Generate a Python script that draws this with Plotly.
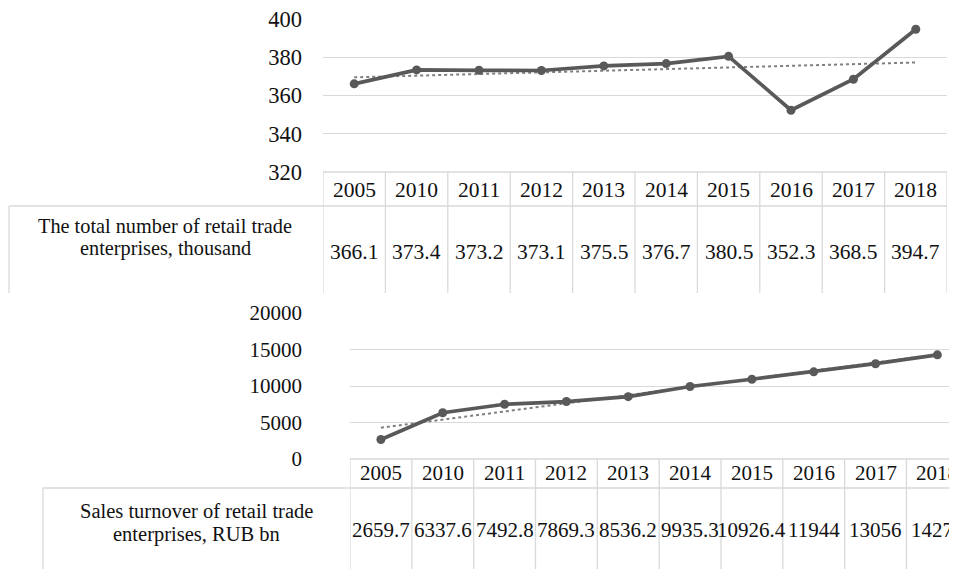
import numpy as np
import plotly.graph_objects as go

# ---------------- data ----------------
years = ["2005", "2010", "2011", "2012", "2013", "2014", "2015", "2016", "2017", "2018"]
enterprises = [366.1, 373.4, 373.2, 373.1, 375.5, 376.7, 380.5, 352.3, 368.5, 394.7]
turnover = [2659.7, 6337.6, 7492.8, 7869.3, 8536.2, 9935.3, 10926.4, 11944, 13056, 14272]
top_ticks = [320, 340, 360, 380, 400]
bottom_ticks = [0, 5000, 10000, 15000, 20000]
top_label_lines = ["The total number of retail trade", "enterprises, thousand"]
bottom_label_lines = ["Sales turnover of retail trade", "enterprises, RUB bn"]

# ---------------- layout helpers ----------------
W, H = 957, 569
OFF = 8  # page body margin: figure is drawn 8px right/down of the page corner
def fx(px):
    return (px - OFF) / W
def fy(py):
    return 1 - (py - OFF) / H

LINE_C = "#595959"
TREND_C = "#7f7f7f"
GRID_C = "#d9d9d9"
TEXT_C = "#111111"
FONT = "Liberation Serif, Times New Roman, serif"

def trend(vals):
    idx = np.arange(1, len(vals) + 1)
    k, b = np.polyfit(idx, vals, 1)
    return list(k * idx + b)

fig = go.Figure()

for vals, xa, ya in [(enterprises, "x", "y"), (turnover, "x2", "y2")]:
    fig.add_trace(go.Scatter(x=years, y=trend(vals), xaxis=xa, yaxis=ya, mode="lines",
                             line=dict(color=TREND_C, width=2, dash="dot"),
                             hoverinfo="skip", showlegend=False))
    fig.add_trace(go.Scatter(x=years, y=vals, xaxis=xa, yaxis=ya, mode="lines+markers",
                             line=dict(color=LINE_C, width=3.7),
                             marker=dict(color=LINE_C, size=9),
                             showlegend=False))

# axes geometry (page pixels)
top_left, top_right = 323, 947
top_y400, top_y320 = 19, 172
bot_left = 350
col_w_bot = 61.83
bot_y20000, bot_y0 = 313, 459
bot_span = (W + OFF - bot_left) / col_w_bot
EPS_TOP = 0.05
EPS_BOT = 10

fig.update_layout(
    template="none",
    width=W, height=H, margin=dict(l=0, r=0, t=0, b=0, pad=0, autoexpand=False),
    paper_bgcolor="white", plot_bgcolor="white",
    font=dict(family=FONT, color=TEXT_C),
    xaxis=dict(domain=[fx(top_left), fx(top_right)], type="category",
               categoryorder="array", categoryarray=years, automargin=False,
               range=[-0.5, len(years) - 0.5], showticklabels=False, ticks="",
               showgrid=False, zeroline=False, showline=False, fixedrange=True),
    yaxis=dict(domain=[fy(top_y320), fy(top_y400)], range=[320 - EPS_TOP, 400 + EPS_TOP],
               automargin=False, ticklabeloverflow="allow",
               tickvals=top_ticks, showgrid=True, gridcolor=GRID_C, gridwidth=1.3,
               zeroline=False, showline=False, ticks="", ticklabelstandoff=20,
               tickfont=dict(size=22.5, family=FONT, color=TEXT_C), fixedrange=True),
    xaxis2=dict(domain=[fx(bot_left), 1], type="category",
                categoryorder="array", categoryarray=years, automargin=False,
                range=[-0.5, -0.5 + bot_span], showticklabels=False, ticks="",
                showgrid=False, zeroline=False, showline=False, fixedrange=True),
    yaxis2=dict(domain=[fy(bot_y0), fy(bot_y20000)], range=[0 - EPS_BOT, 20000 + EPS_BOT],
                automargin=False, ticklabeloverflow="allow",
                tickvals=bottom_ticks, tickformat="d", showgrid=True, gridcolor=GRID_C,
                gridwidth=1.3, zeroline=False, showline=False, ticks="", ticklabelstandoff=20,
                tickfont=dict(size=21, family=FONT, color=TEXT_C), fixedrange=True),
)

shapes = []
annotations = []

def vline(xref, xval, py0, py1):
    shapes.append(dict(type="line", xref=xref, yref="paper", x0=xval, x1=xval,
                       y0=fy(py0), y1=fy(py1), line=dict(color=GRID_C, width=1.3)))

def hline(px0, px1, py):
    shapes.append(dict(type="line", xref="paper", yref="paper", x0=fx(px0), x1=fx(px1),
                       y0=fy(py), y1=fy(py), line=dict(color=GRID_C, width=1.3)))

def text(x, xref, py, s, size):
    annotations.append(dict(x=x, xref=xref, y=fy(py), yref="paper", text=s, showarrow=False,
                            xanchor="center", yanchor="middle",
                            font=dict(size=size, family=FONT, color=TEXT_C)))

# ---- top table ----
top_hdr_bot = 206
top_tbl_bot = 293
left_top_cell = 9
for i in range(len(years) + 1):
    vline("x", i - 0.5, top_y320, top_tbl_bot)
hline(top_left, top_right, top_y320)
hline(left_top_cell, top_right, top_hdr_bot)
shapes.append(dict(type="line", xref="paper", yref="paper", x0=fx(left_top_cell), x1=fx(left_top_cell),
                   y0=fy(top_hdr_bot), y1=fy(top_tbl_bot), line=dict(color=GRID_C, width=1.3)))
for i, (yr, v) in enumerate(zip(years, enterprises)):
    text(i, "x", 190, yr, 21.5)
    text(i, "x", 252, f"{v:g}", 21.5)
for j, line in enumerate(top_label_lines):
    text(fx(165), "paper", 226 + 23 * j, line, 20.3)

# ---- bottom table ----
bot_hdr_bot = 488
for i in range(len(years) + 1):
    vline("x2", i - 0.5, bot_y0, H + OFF)
hline(bot_left, W + OFF, bot_y0)
hline(43, W + OFF, bot_hdr_bot)
shapes.append(dict(type="line", xref="paper", yref="paper", x0=fx(43), x1=fx(43),
                   y0=fy(bot_hdr_bot), y1=fy(H + OFF), line=dict(color=GRID_C, width=1.3)))
for i, (yr, v) in enumerate(zip(years, turnover)):
    text(i, "x2", 472.5, yr, 21)
    text(i, "x2", 529.5, f"{v:g}", 21)
for j, line in enumerate(bottom_label_lines):
    text(fx(196), "paper", 511 + 23 * j, line, 20.5)

fig.update_layout(shapes=shapes, annotations=annotations)
fig.write_html("out.html", config={"displayModeBar": False})
